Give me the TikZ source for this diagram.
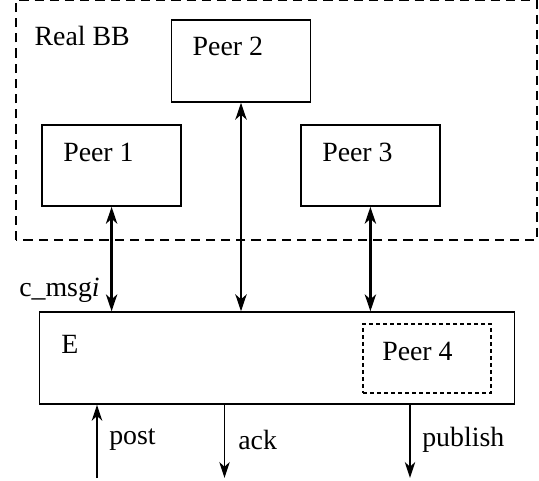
\documentclass[tikz,border=0pt]{standalone}
\usepackage{fontspec}
\setmainfont{Liberation Serif}
\newfontfamily\timesfont{Liberation Serif}
\usepackage{tikz}
\usetikzlibrary{arrows.meta}

\tikzset{
  peerbox/.style={draw, line width=1pt, minimum width=3.475cm, minimum height=2.025cm, inner sep=0pt},
  txt/.style={anchor=west, inner sep=0pt},
  link/.style={{Stealth[length=0.42cm,width=0.28cm,inset=0.12cm]}-{Stealth[length=0.42cm,width=0.28cm,inset=0.12cm]}, line width=2pt},
  io/.style={-{Stealth[length=0.4cm,width=0.26cm,inset=0.12cm]}, line width=1.3pt}
}

\begin{document}
\begin{tikzpicture}[font=\timesfont\fontsize{19.8}{24}\selectfont]
\useasboundingbox (0,0) rectangle (13.475,12);

% real BB
\draw[line width=1pt, dash pattern=on 0.23cm off 0.15cm] (0.395,6.0) rectangle (13.425,11.99);
\node[txt] (bb) at (0.86,11.1) {Real BB};

\node[peerbox, minimum height=2.05cm] (peerB) at (6.025,10.475) {};
\node[peerbox] (peerA) at (2.79,7.86) {};
\node[peerbox] (peerC) at (9.26,7.86) {};
\node[txt] at (4.81,10.83) {Peer 2};
\node[txt] at (1.575,8.2) {Peer 1};
\node[txt] at (8.05,8.2) {Peer 3};

% E
\node[draw, line width=1pt, minimum width=11.88cm, minimum height=2.3cm, inner sep=0pt] (E) at (6.926,3.05) {};
\node[txt] at (1.525,3.4) {E};
\node[draw, line width=1pt, dash pattern=on 0.1cm off 0.075cm, minimum width=3.2cm, minimum height=1.725cm, inner sep=0pt] (peerD) at (10.675,3.04) {};
\node[txt] at (9.55,3.21) {Peer 4};

\draw[link] (peerA.south) -- (peerA.south |- E.north);
\draw[link] (peerB.south) -- (peerB.south |- E.north);
\draw[link] (peerC.south) -- (peerC.south |- E.north);
\node[txt] (cmsg) at (0.475,4.75) {c\_msg\textit{i}};

% in/out
\coordinate (post) at (2.425,0.05);
\coordinate (ack) at (5.6125,0.05);
\coordinate (pub) at (10.25,0.05);
\draw[io] (post) -- (post |- E.south);
\draw[io] (ack |- E.south) -- (ack);
\draw[io] (pub |- E.south) -- (pub);
\node[txt] at (2.725,1.0) {post};
\node[txt] at (5.95,1.0) {ack};
\node[txt] at (10.55,1.0) {publish};

\end{tikzpicture}
\end{document}
